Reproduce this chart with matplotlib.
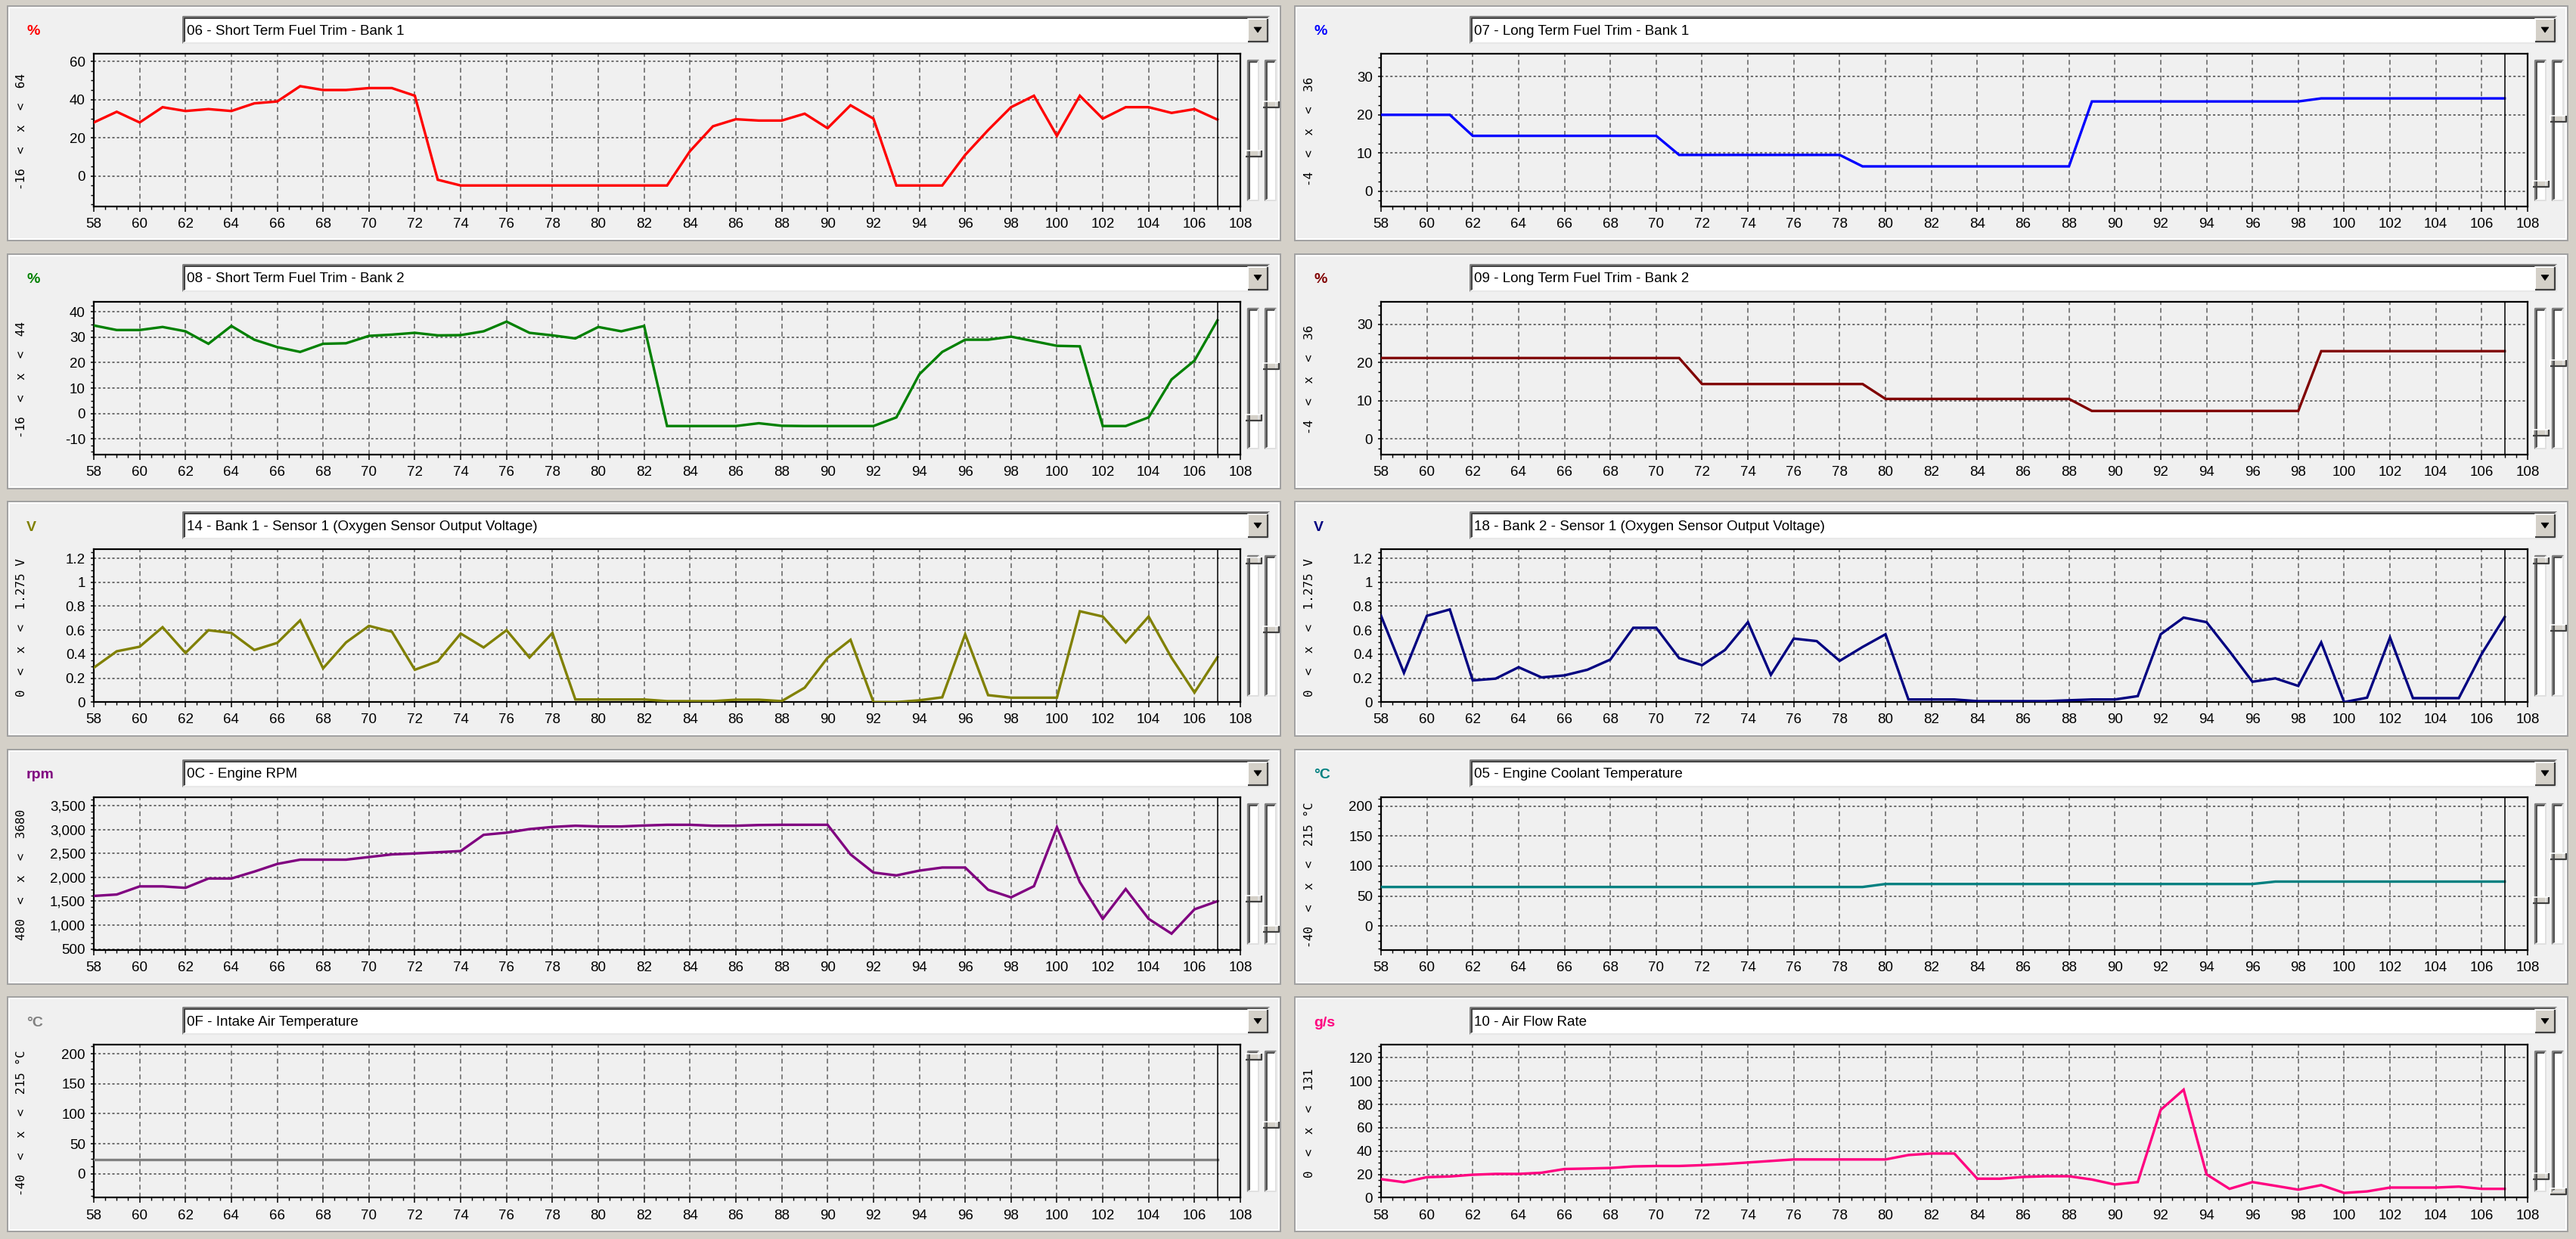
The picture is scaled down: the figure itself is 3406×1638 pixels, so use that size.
import matplotlib
matplotlib.use("Agg")
import matplotlib.pyplot as plt
from matplotlib.patches import Rectangle, Polygon
from matplotlib.ticker import MultipleLocator, AutoMinorLocator, FuncFormatter

plt.rcParams["lines.scale_dashes"] = False

# ---------------- data ----------------
x_seconds = list(range(58, 108))

stft_b1 = [28, 33.6, 28, 36, 34, 35, 34, 38, 39, 47, 45, 45, 46, 46, 42,
           -2, -5, -5, -5, -5, -5, -5, -5, -5, -5, -5,
           13, 26, 29.7, 29, 29, 32.6, 25, 37, 30, -5, -5, -5, 11, 24,
           36, 42, 21, 42, 30, 36, 36, 33, 35, 29.5]
ltft_b1 = [20] * 4 + [14.5] * 9 + [9.5] * 8 + [6.5] * 10 + [23.5] * 10 + [24.3] * 9
stft_b2 = [34.6, 32.8, 32.8, 34, 32.3, 27.4, 34.4, 29, 26.1, 24.2, 27.4, 27.6, 30.5,
           31, 31.7, 30.7, 30.8, 32.3, 36.1, 31.7, 30.7, 29.5, 34, 32.3, 34.4,
           -4.9, -4.9, -4.9, -4.9, -3.8, -4.8, -4.9, -4.9, -4.9, -4.9,
           -1.5, 15.4, 24.2, 29, 29, 30.2, 28.4, 26.6, 26.4, -4.9, -4.9, -1.5, 13.4, 20.8, 36.6]
ltft_b2 = [21.2] * 14 + [14.4] * 8 + [10.5] * 9 + [7.35] * 10 + [23] * 9
o2_b1s1 = [0.287, 0.424, 0.462, 0.625, 0.41, 0.6, 0.577, 0.435, 0.494, 0.682,
           0.282, 0.498, 0.636, 0.587, 0.27, 0.34, 0.572, 0.456, 0.6, 0.372,
           0.577, 0.022, 0.022, 0.022, 0.022, 0.008, 0.008, 0.008, 0.02, 0.02,
           0.008, 0.12, 0.37, 0.52, 0.0, 0.0, 0.015, 0.04, 0.566, 0.058,
           0.037, 0.037, 0.037, 0.758, 0.714, 0.498, 0.714, 0.37, 0.08, 0.375]
o2_b2s1 = [0.72, 0.244, 0.72, 0.773, 0.181, 0.196, 0.291, 0.206, 0.223, 0.27,
           0.355, 0.62, 0.62, 0.367, 0.308, 0.435, 0.667, 0.227, 0.53, 0.509,
           0.344, 0.46, 0.566, 0.022, 0.022, 0.022, 0.008, 0.008, 0.008, 0.008,
           0.015, 0.022, 0.022, 0.05, 0.566, 0.705, 0.667, 0.424, 0.17, 0.198,
           0.135, 0.498, 0.0, 0.037, 0.54, 0.033, 0.033, 0.033, 0.403, 0.71]
engine_rpm = [1610, 1640, 1810, 1810, 1780, 1975, 1975, 2120, 2280, 2370,
              2370, 2370, 2425, 2480, 2500, 2525, 2550, 2890, 2935, 3010,
              3055, 3080, 3065, 3065, 3085, 3100, 3100, 3080, 3080, 3095,
              3100, 3100, 3100, 2480, 2100, 2040, 2140, 2205, 2205, 1740,
              1580, 1815, 3050, 1900, 1130, 1755, 1130, 820, 1330, 1500]
coolant_temp = [65] * 22 + [70] * 17 + [74] * 11
intake_temp = [24] * 50
air_flow = [15.9, 13.3, 17.6, 18.2, 19.7, 20.4, 20.4, 21.4, 24.6, 25,
            25.5, 26.8, 27.2, 27.2, 27.9, 28.9, 30.2, 31.5, 32.8, 32.8,
            32.8, 32.8, 32.8, 36.6, 37.9, 37.9, 16.3, 16.3, 17.8, 18.4,
            18.4, 15.6, 11.3, 13.4, 75.3, 92.6, 20, 7.6, 13.4, 10.2,
            6.9, 10.8, 4.1, 5.4, 8.7, 8.7, 8.7, 9.5, 7.6, 7.6]

series = [stft_b1, ltft_b1, stft_b2, ltft_b2, o2_b1s1, o2_b2s1,
          engine_rpm, coolant_temp, intake_temp, air_flow]
titles = ["06 - Short Term Fuel Trim - Bank 1", "07 - Long Term Fuel Trim - Bank 1",
          "08 - Short Term Fuel Trim - Bank 2", "09 - Long Term Fuel Trim - Bank 2",
          "14 - Bank 1 - Sensor 1 (Oxygen Sensor Output Voltage)",
          "18 - Bank 2 - Sensor 1 (Oxygen Sensor Output Voltage)",
          "0C - Engine RPM", "05 - Engine Coolant Temperature",
          "0F - Intake Air Temperature", "10 - Air Flow Rate"]
units = ["%", "%", "%", "%", "V", "V", "rpm", "°C", "°C", "g/s"]
y_min = [-16, -4, -16, -4, 0, 0, 480, -40, -40, 0]
y_max = [64, 36, 44, 36, 1.275, 1.275, 3680, 215, 215, 131]
range_suffix = ["", "", "", "", " V", " V", "", " °C", " °C", ""]
y_major = [20, 10, 10, 10, 0.2, 0.2, 500, 50, 50, 20]
x_ticks = list(range(58, 109, 2))
cursor_x = 107

# ---------------- styles ----------------
line_colors = ["#FF0000", "#0000FF", "#008000", "#800000", "#808000", "#000080",
               "#800080", "#008080", "#808080", "#FF0080"]
thumbs = [(195, 130), (235, 149), (216, 148), (236, 144), (78, 169),
          (78, 167), (197, 237), (199, 141), (79, 169), (237, 257)]

W, H = 3406, 1638
fig = plt.figure(figsize=(W / 100, H / 100), dpi=100, facecolor="#D4D0C8")
ov = fig.add_axes([0, 0, 1, 1], zorder=0)
ov.set_xlim(0, W)
ov.set_ylim(H, 0)
ov.axis("off")

FONT = ["Liberation Sans", "DejaVu Sans"]


def px_rect(x0, y0, x1, y1):
    return [x0 / W, 1 - y1 / H, (x1 - x0) / W, (y1 - y0) / H]


def fmt_factory(i):
    if i == 6:
        return FuncFormatter(lambda v, p: f"{int(round(v)):,}")
    return FuncFormatter(lambda v, p: f"{v:g}" if abs(v) > 1e-9 else "0")


for i in range(10):
    r, c = divmod(i, 2)
    pl = 10 + c * 1702
    pt = 8 + r * 327.6
    pw = 1683

    # panel frame
    ov.add_patch(Rectangle((pl, pt), pw, 310, facecolor="#F0F0F0",
                           edgecolor="#A0A0A0", lw=1.4))
    ov.add_patch(Rectangle((pl + 2, pt + 2), pw - 4, 306, facecolor="none",
                           edgecolor="white", lw=1.4))

    # unit label
    ov.text(pl + 25, pt + 34, units[i], color=line_colors[i], fontsize=14,
            fontweight="bold", va="center", ha="left", family=FONT)

    # dropdown
    dl, dr, dt, db = pl + 232, pl + 1668, pt + 14, pt + 49
    ov.add_patch(Rectangle((dl, dt), dr - dl, db - dt, facecolor="white",
                           edgecolor="none"))
    ov.plot([dl, dl, dr], [db, dt, dt], color="#808080", lw=2.2, solid_capstyle="butt")
    ov.plot([dl + 2, dl + 2, dr - 2], [db - 2, dt + 2, dt + 2], color="#404040", lw=1.4,
            solid_capstyle="butt")
    ov.plot([dl, dr, dr], [db, db, dt], color="#E8E8E8", lw=1.6, solid_capstyle="butt")
    ov.text(dl + 5, pt + 33, titles[i], fontsize=13.5, va="center", ha="left",
            family=FONT, color="black")
    bl, br, bt, bb = pl + 1640, pl + 1666, pt + 17, pt + 47
    ov.add_patch(Rectangle((bl, bt), br - bl, bb - bt, facecolor="#D4D0C8",
                           edgecolor="none"))
    ov.plot([bl, bl, br], [bb, bt, bt], color="white", lw=1.4, solid_capstyle="butt")
    ov.plot([bl, br, br], [bb, bb, bt], color="#404040", lw=1.6, solid_capstyle="butt")
    cx, cy = (bl + br) / 2, pt + 31
    ov.add_patch(Polygon([(cx - 5, cy - 3), (cx + 5, cy - 3), (cx, cy + 4)],
                         closed=True, facecolor="black", edgecolor="black", lw=0.5))

    # range text
    lo = f"{y_min[i]:g}"
    hi = f"{y_max[i]:g}"
    ov.text(pl + 19, pt + 166, f"{lo}  <  x  <  {hi}{range_suffix[i]}", rotation=90,
            fontsize=11.5, va="center", ha="center", family=["DejaVu Sans Mono"],
            color="black")

    # sliders
    for k, (tx0, tx1) in enumerate([(1640, 1654), (1663, 1677)]):
        sx0, sx1 = pl + tx0, pl + tx1
        sy0, sy1 = pt + 72, pt + 257
        ov.add_patch(Rectangle((sx0, sy0), sx1 - sx0, sy1 - sy0, facecolor="white",
                               edgecolor="none"))
        ov.plot([sx0, sx0, sx1], [sy1, sy0, sy0], color="#808080", lw=2.4,
                solid_capstyle="butt")
        ov.plot([sx0 + 2, sx0 + 2, sx1 - 2], [sy1 - 2, sy0 + 2, sy0 + 2], color="#404040",
                lw=1.2, solid_capstyle="butt")
        ov.plot([sx0, sx1, sx1], [sy1, sy1, sy0], color="#E0E0E0", lw=1.4,
                solid_capstyle="butt")
        ty = pt + thumbs[i][k]
        tx0b, tx1b = sx0 - 3, sx1 + 4
        ov.add_patch(Rectangle((tx0b, ty - 4), tx1b - tx0b, 8, facecolor="#D4D0C8",
                               edgecolor="none"))
        ov.plot([tx0b, tx0b, tx1b], [ty + 4, ty - 4, ty - 4], color="white", lw=1.2,
                solid_capstyle="butt")
        ov.plot([tx0b, tx1b, tx1b], [ty + 4, ty + 4, ty - 4], color="#404040", lw=1.6,
                solid_capstyle="butt")

    # data axes
    ax = fig.add_axes(px_rect(pl + 114, pt + 63, pl + 1630, pt + 265), zorder=2)
    ax.set_facecolor("#F0F0F0")
    ax.plot(x_seconds, series[i], color=line_colors[i], lw=2.4, zorder=3,
            solid_joinstyle="miter")
    ax.axvline(cursor_x, color="black", lw=1.1, zorder=4)
    ax.set_xlim(58, 108)
    ax.set_ylim(y_min[i], y_max[i])
    ax.set_xticks(x_ticks)
    ax.xaxis.set_minor_locator(MultipleLocator(0.5))
    ax.yaxis.set_major_locator(MultipleLocator(y_major[i]))
    ax.yaxis.set_minor_locator(AutoMinorLocator(4))
    ax.yaxis.set_major_formatter(fmt_factory(i))
    ax.xaxis.grid(True, which="major", linestyle=(0, (4.5, 3)), color="#606060", lw=1.1)
    ax.yaxis.grid(True, which="major", linestyle=(0, (2.2, 2.2)), color="#606060", lw=1.3)
    ax.set_axisbelow(True)
    ax.tick_params(axis="x", which="major", length=5, width=1.1, pad=6,
                   labelsize=13.5, direction="out")
    ax.tick_params(axis="x", which="minor", length=3, width=1.0, direction="out")
    ax.tick_params(axis="y", which="major", length=3, width=1.1, pad=5,
                   labelsize=13.5, direction="out")
    ax.tick_params(axis="y", which="minor", length=3, width=1.0, direction="out")
    for lab in ax.get_xticklabels() + ax.get_yticklabels():
        lab.set_family(FONT)
    for sp in ax.spines.values():
        sp.set_linewidth(1.6)
        sp.set_color("black")

fig.savefig("out.png", dpi=100, facecolor=fig.get_facecolor())
